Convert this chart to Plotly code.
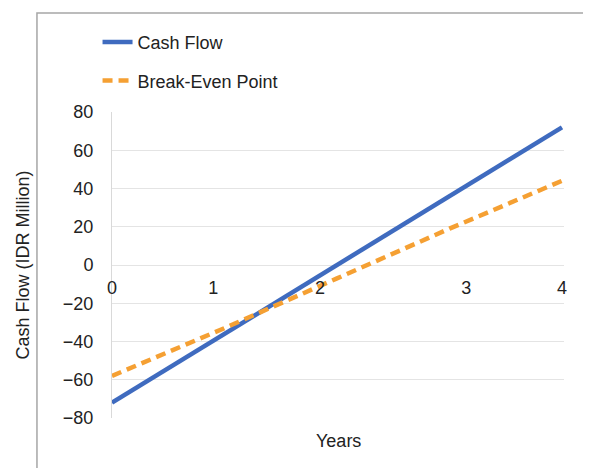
import plotly.graph_objects as go

years = [0, 1, 2, 3, 4]
cash_flow = [-72, -36, 0, 36, 72]
break_even = [-58, -33, -7, 19, 44]

x_tick_pos = [0, 0.9, 1.85, 3.15, 4]
x_tick_text = ["0", "1", "2", "3", "4"]
y_ticks = [-80, -60, -40, -20, 0, 20, 40, 60, 80]

FONT = "Liberation Sans, Arial, sans-serif"

fig = go.Figure()
fig.add_trace(go.Scatter(x=years, y=cash_flow, mode="lines", name="Cash Flow",
                         legendgroup="a",
                         line=dict(color="#3F6BBF", width=4.5)))
fig.add_trace(go.Scatter(x=years, y=break_even, mode="lines", name="Break-Even Point",
                         legendgroup="b",
                         line=dict(color="#F5A033", width=4.5, dash="10px,6px")))

fig.update_layout(
    width=583, height=460,
    margin=dict(l=104, r=27, t=104, b=50, autoexpand=False),
    paper_bgcolor="white", plot_bgcolor="white",
    font=dict(family=FONT, size=18, color="#222222"),
    showlegend=True,
    legend=dict(x=-0.032, y=1.288, xanchor="left", yanchor="top",
                traceorder="grouped", tracegroupgap=12,
                font=dict(size=18, color="#222222"),
                bgcolor="rgba(0,0,0,0)"),
    xaxis=dict(range=[0, 4.018], tickvals=x_tick_pos, ticktext=x_tick_text,
               showgrid=False, zeroline=False, showline=False,
               anchor="free", position=0.5, ticks="",
               ticklabelstandoff=10, automargin=False,
               tickfont=dict(size=18, color="#222222")),
    yaxis=dict(range=[-80, 80], tickvals=y_ticks, automargin=False,
               showgrid=True, gridcolor="#E4E4E4", gridwidth=1,
               zeroline=False, showline=True, linecolor="#D9D9D9", linewidth=1,
               ticks="", ticklabelstandoff=14,
               tickfont=dict(size=18, color="#222222"),
               title=dict(text="Cash Flow (IDR Million)", standoff=28,
                          font=dict(size=18, color="#222222"))),
    shapes=[dict(type="rect", xref="paper", yref="paper",
                 x0=-0.166, x1=1.3, y0=-0.6, y1=1.3235,
                 line=dict(color="#A6A6A6", width=1.5), fillcolor="rgba(0,0,0,0)",
                 layer="below")],
    annotations=[dict(text="Years", xref="paper", yref="paper", x=0.5, y=-0.075,
                      xanchor="center", yanchor="middle", showarrow=False,
                      font=dict(size=18, color="#222222"))],
)

fig.write_html("out.html")
